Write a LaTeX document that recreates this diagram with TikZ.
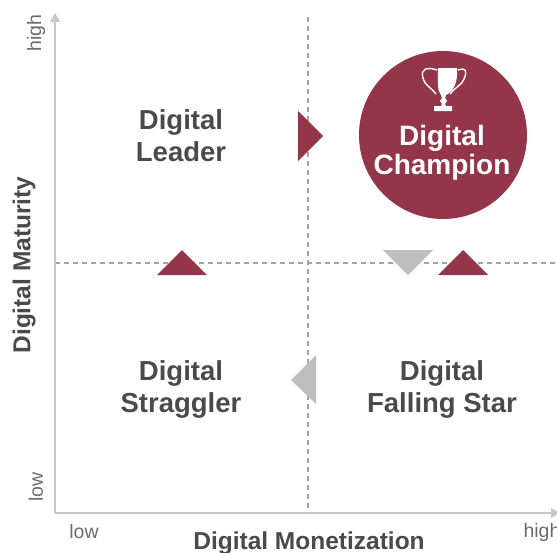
\documentclass[tikz,border=0pt]{standalone}
\usepackage{fontspec}
\setmainfont{Liberation Sans}
\usepackage{xcolor}
\usetikzlibrary{arrows.meta}
\definecolor{maroon}{HTML}{93364A}
\definecolor{greytri}{HTML}{BEBEBE}
\definecolor{greytext}{HTML}{4A4A4A}
\tikzset{
	quadrant/.style={align=center,font=\bfseries\fontsize{27.5}{32}\selectfont,text=greytext},
	axislabel/.style={font=\bfseries\fontsize{24.5}{27}\selectfont,text=greytext},
	endlabel/.style={font=\fontsize{19.5}{20}\selectfont,text=black!58},
	axisline/.style={line width=1.2pt,draw=black!22,-{Triangle[length=9pt,width=10pt]}},
	midline/.style={line width=1.1pt,draw=black!36,dash pattern=on 5pt off 4pt},
}
\begin{document}
\begin{tikzpicture}[x=1pt,y=-1pt]
	\useasboundingbox (0,0) rectangle (557,552);
	
	% axes and dashed cross
	\coordinate (origin) at (55,513);
	\coordinate (ytip) at (55,13);
	\coordinate (xtip) at (560,513);
	\coordinate (vtop) at (308,17);
	\coordinate (vbot) at (308,513);
	\coordinate (hleft) at (55,263);
	\coordinate (hright) at (557,263);
	\draw[midline] (vtop) -- (vbot);
	\draw[midline] (hleft) -- (hright);
	\draw[axisline] (origin) -- (ytip);
	\draw[axisline] (origin) -- (xtip);
	
	% champion circle
	\node[circle,fill=maroon,minimum size=168pt,inner sep=0pt] (champ) at (443,135) {};
	
	% trophy
	\fill[white] (438,68) -- (457,68) .. controls (458,82) and (454,91) .. (446,95) -- (445,98) -- (447,101) -- (445,104) -- (446,106) -- (452,106) -- (452,111) -- (434,111) -- (434,106) -- (441,106) -- (442,104) -- (440,101) -- (442,98) -- (441,95) .. controls (437,91) and (438,82) .. (438,68) -- cycle;
	\draw[white,line width=1.4pt] (437,70) .. controls (428,67) and (420,68) .. (423,78) .. controls (425,86) and (432,88) .. (436,94);
	\draw[white,line width=1.4pt] (458,70) .. controls (467,67) and (467,72) .. (464,79) .. controls (461,86) and (454,88) .. (450,94);
	
	% quadrant labels
	\node[quadrant] (leader) at (181,136) {Digital\\Leader};
	\node[quadrant,text=white,font=\bfseries\fontsize{28}{29.5}\selectfont] (champion) at (442,153) {Digital\\Champion};
	\node[quadrant] (straggler) at (181,389) {Digital\\Straggler};
	\node[quadrant] (fallingstar) at (442,389) {Digital\\Falling Star};
	
	% triangles
	\fill[maroon] (298,111) -- (323,136) -- (298,161) -- cycle;
	\fill[maroon] (157,275) -- (182,250) -- (207,275) -- cycle;
	\fill[maroon] (438,275) -- (463,250) -- (488,275) -- cycle;
	\fill[greytri] (383,250) -- (433,250) -- (408,275) -- cycle;
	\fill[greytri] (316,355) -- (316,404) -- (291,380) -- cycle;
	
	% axis texts
	\node[axislabel] (xlabel) at (309,543) {Digital Monetization};
	\node[axislabel,rotate=90] (ylabel) at (24,265) {Digital Maturity};
	\node[endlabel] (xlow) at (84,532) {low};
	\node[endlabel] (xhigh) at (542,532) {high};
	\node[endlabel,rotate=90] (ylow) at (36,487) {low};
	\node[endlabel,rotate=90] (yhigh) at (36,33) {high};
	
\end{tikzpicture}
\end{document}
